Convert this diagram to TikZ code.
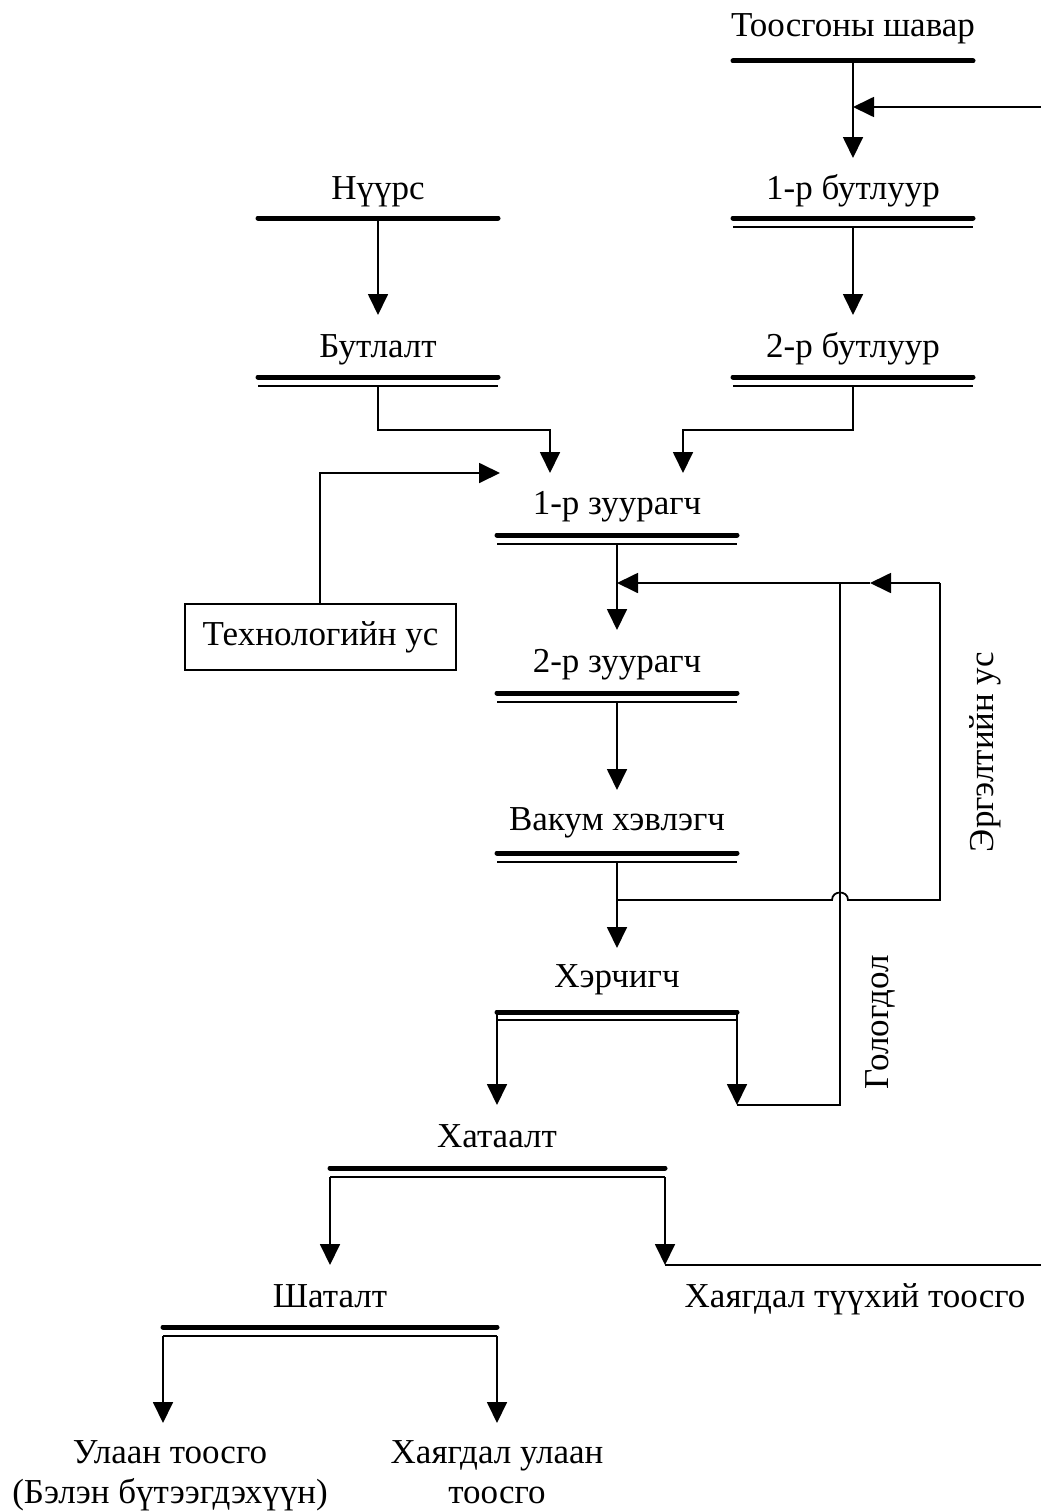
\documentclass[tikz,border=0pt]{standalone}
\usepackage{fontspec}
\setmainfont{Liberation Serif}
\usetikzlibrary{arrows.meta}
\begin{document}
\begin{tikzpicture}[x=1pt,y=-1pt,
  lbl/.style={font=\fontsize{35}{40}\selectfont, inner sep=0pt, anchor=base},
  rlbl/.style={font=\fontsize{35}{40}\selectfont, inner sep=0pt, rotate=90},
  barT/.style={line width=5pt, line cap=round},
  barB/.style={line width=1.3pt},
  conn/.style={line width=1.8pt},
  arr/.style={conn, -{Triangle[width=20pt,length=21pt]}},
  boxed/.style={draw, line width=1.5pt, minimum width=271pt, minimum height=66pt, inner sep=0pt, font=\fontsize{35}{40}\selectfont}]
\useasboundingbox (0,0) rectangle (1041,1512);

% labels
\node[lbl] (tsh) at (853,37) {Тоосгоны шавар};
\node[lbl] (b1) at (853,199) {1-р бутлуур};
\node[lbl] (b2) at (853,357) {2-р бутлуур};
\node[lbl] (nrs) at (378,199) {Нүүрс};
\node[lbl] (btl) at (378,357) {Бутлалт};
\node[lbl] (z1) at (617,514) {1-р зуурагч};
\node[lbl] (z2) at (617,672) {2-р зуурагч};
\node[lbl] (vak) at (617,830) {Вакум хэвлэгч};
\node[lbl] (her) at (617,987) {Хэрчигч};
\node[lbl] (hat) at (497,1147) {Хатаалт};
\node[lbl] (sht) at (330,1307) {Шаталт};
\node[lbl] (hth) at (855,1307) {Хаягдал түүхий тоосго};
\node[lbl] (ul1) at (170,1463) {Улаан тоосго};
\node[lbl] (ul2) at (170,1503) {(Бэлэн бүтээгдэхүүн)};
\node[lbl] (hu1) at (497,1463) {Хаягдал улаан};
\node[lbl] (hu2) at (497,1503) {тоосго};
\node[boxed] (tech) at (320.5,637) {Технологийн ус};
\node[rlbl] (erg) at (985,752) {Эргэлтийн ус};
\node[rlbl] (gol) at (880,1022) {Гологдол};

% bars
\draw[barT] (733,61) -- (973,61);
\draw[barT] (733,218) -- (973,218); \draw[barB] (733,227) -- (973,227);
\draw[barT] (733,377) -- (973,377); \draw[barB] (733,386) -- (973,386);
\draw[barT] (258,218) -- (498,218);
\draw[barT] (258,377) -- (498,377); \draw[barB] (258,386) -- (498,386);
\draw[barT] (497,535) -- (737,535); \draw[barB] (497,544) -- (737,544);
\draw[barT] (497,693) -- (737,693); \draw[barB] (497,702) -- (737,702);
\draw[barT] (497,853) -- (737,853); \draw[barB] (497,862) -- (737,862);
\draw[barT] (497,1012) -- (737,1012); \draw[barB] (497,1020) -- (737,1020);
\draw[barT] (330,1168) -- (665,1168); \draw[barB] (330,1177) -- (665,1177);
\draw[barT] (163,1327) -- (497,1327); \draw[barB] (163,1336) -- (497,1336);

% coordinates
\coordinate (oTsh) at (853,61);
\coordinate (iB1) at (853,158);
\coordinate (jTop) at (853,107);
\coordinate (eTop) at (1041,107);
\coordinate (oB1) at (853,227);
\coordinate (iB2) at (853,315);
\coordinate (oB2) at (853,386);
\coordinate (oNrs) at (378,218);
\coordinate (iBtl) at (378,315);
\coordinate (oBtl) at (378,386);
\coordinate (iZ1a) at (550,473);
\coordinate (iZ1b) at (683,473);
\coordinate (iZ1c) at (500,473);
\coordinate (oZ1) at (617,544);
\coordinate (iZ2) at (617,630);
\coordinate (jRec) at (617,583);
\coordinate (mRec) at (870,583);
\coordinate (cRec) at (940,583);
\coordinate (oZ2) at (617,702);
\coordinate (iVak) at (617,790);
\coordinate (oVak) at (617,862);
\coordinate (iHer) at (617,948);
\coordinate (jVak) at (617,900);
\coordinate (cVak) at (940,900);
\coordinate (oHerL) at (497,1012);
\coordinate (oHerR) at (737,1012);
\coordinate (iHat) at (497,1105);
\coordinate (rej) at (737,1105);
\coordinate (cRej) at (840,1105);
\coordinate (tRej) at (840,583);
\coordinate (oHatL) at (330,1177);
\coordinate (oHatR) at (665,1177);
\coordinate (iSht) at (330,1265);
\coordinate (iHth) at (665,1265);
\coordinate (eBot) at (1041,1265);
\coordinate (oShtL) at (163,1336);
\coordinate (oShtR) at (497,1336);
\coordinate (iUl) at (163,1423);
\coordinate (iHu) at (497,1423);

% connectors
\draw[arr] (oTsh) -- (iB1);
\draw[arr] (eTop) -- (jTop);
\draw[arr] (oB1) -- (iB2);
\draw[arr] (oB2) |- (853,430) -| (iZ1b);
\draw[arr] (oNrs) -- (iBtl);
\draw[arr] (oBtl) |- (378,430) -| (iZ1a);
\draw[arr] (tech.north -| 320,0) |- (iZ1c);
\draw[arr] (oZ1) -- (iZ2);
\draw[arr] (cRec) -- (mRec);
\draw[arr] (mRec) -- (jRec);
\draw[arr] (oZ2) -- (iVak);
\draw[arr] (oVak) -- (iHer);
\draw[conn] (jVak) -- (832,900) .. controls (832,890) and (848,890) .. (848,900) -- (cVak) -- (cRec);
\draw[arr] (oHerL) -- (iHat);
\draw[arr] (oHerR) -- (rej);
\draw[conn] (rej) -- (cRej) -- (tRej);
\draw[arr] (oHatL) -- (iSht);
\draw[arr] (oHatR) -- (iHth);
\draw[conn] (iHth) -- (eBot);
\draw[arr] (oShtL) -- (iUl);
\draw[arr] (oShtR) -- (iHu);
\end{tikzpicture}
\end{document}
